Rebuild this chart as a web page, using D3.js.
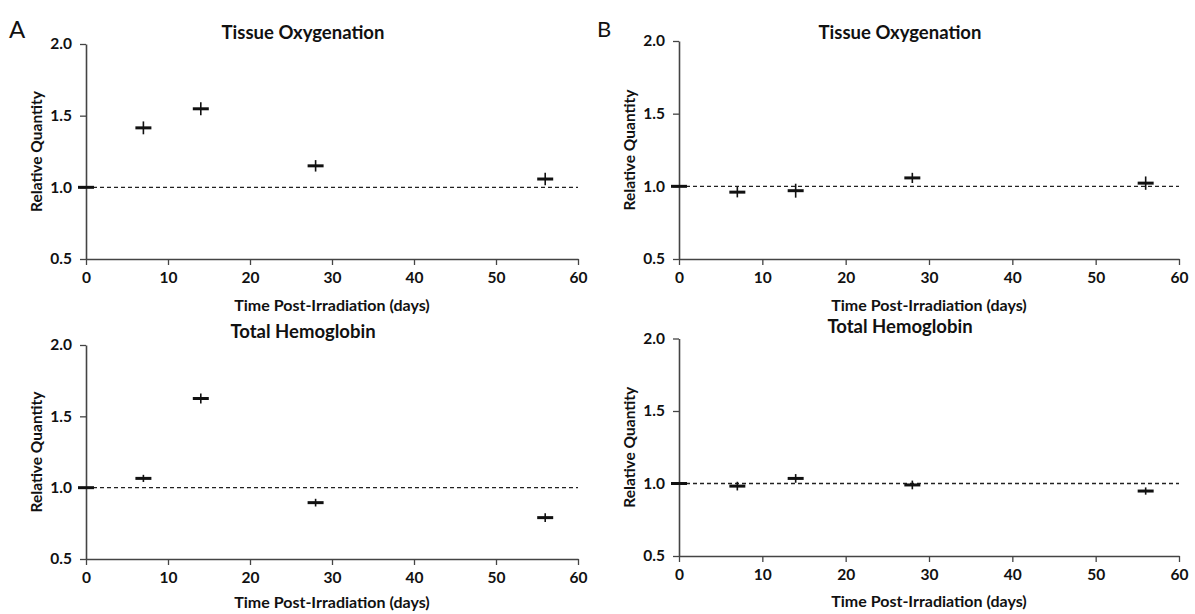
<!DOCTYPE html>
<html><head><meta charset="utf-8">
<script src="https://cdn.jsdelivr.net/npm/d3@7"></script>
<style>
body{margin:0;background:#fff;}
text{font-family:Lato,"Open Sans",sans-serif;fill:#111;}
</style></head>
<body><svg id="c" width="1195" height="614"></svg>
<script>
// ---- data ----
const days = [0, 7, 14, 28, 56];
const xTicks = [0, 10, 20, 30, 40, 50, 60];
const yTicks = [0.5, 1.0, 1.5, 2.0];
const oxyA = [1.00, 1.415, 1.548, 1.150, 1.058];
const oxyAErr = [0, 0.045, 0.045, 0.040, 0.043];
const hbA = [1.00, 1.065, 1.625, 0.895, 0.790];
const hbAErr = [0, 0.025, 0.035, 0.027, 0.030];
const oxyB = [1.00, 0.960, 0.970, 1.058, 1.022];
const oxyBErr = [0, 0.036, 0.048, 0.035, 0.046];
const hbB = [1.00, 0.982, 1.035, 0.990, 0.948];
const hbBErr = [0, 0.030, 0.030, 0.030, 0.025];
const titles = ["Tissue Oxygenation", "Total Hemoglobin"];
const xLabel = "Time Post-Irradiation (days)";
const yLabel = "Relative Quantity";

const svg = d3.select("#c");

const panels = [
  {vals: oxyA, err: oxyAErr, title: titles[0], x0: 86, x1: 578, yT: 44, yB: 259, titleY: 39, xlabY: 311},
  {vals: hbA, err: hbAErr, title: titles[1], x0: 86, x1: 578, yT: 345, yB: 559, titleY: 338, xlabY: 608},
  {vals: oxyB, err: oxyBErr, title: titles[0], x0: 679, x1: 1179, yT: 41, yB: 259, titleY: 39, xlabY: 311},
  {vals: hbB, err: hbBErr, title: titles[1], x0: 679, x1: 1179, yT: 338.5, yB: 556, titleY: 333, xlabY: 607}
];

panels.forEach(p => {
  const x = d3.scaleLinear().domain([0, 60]).range([p.x0, p.x1]);
  const y = d3.scaleLinear().domain([0.5, 2.0]).range([p.yB, p.yT]);
  const g = svg.append("g");

  // reference dashed line at 1.0
  g.append("line").attr("x1", x(0)).attr("x2", x(60)).attr("y1", y(1)).attr("y2", y(1))
    .attr("stroke", "#222").attr("stroke-width", 1.3).attr("stroke-dasharray", "4,3");

  const xa = g.append("g").attr("transform", `translate(0,${p.yB})`)
    .call(d3.axisBottom(x).tickValues(xTicks).tickSize(6).tickSizeOuter(0).tickPadding(7));
  const ya = g.append("g").attr("transform", `translate(${p.x0},0)`)
    .call(d3.axisLeft(y).tickValues(yTicks).tickSize(6).tickSizeOuter(0).tickPadding(8).tickFormat(d3.format(".1f")));
  [xa, ya].forEach(a => {
    a.select(".domain").attr("stroke", "#444").attr("stroke-width", 1.6);
    a.selectAll(".tick line").attr("stroke", "#444").attr("stroke-width", 1.3);
    a.selectAll(".tick text").style("font-size", "15.5px").style("font-weight", "700").attr("fill", "#111");
  });

  // markers: vertical error bar + horizontal bar
  const m = g.selectAll("g.mk").data(days.map((d, i) => ({d, v: p.vals[i], e: p.err[i]}))).enter().append("g");
  m.append("line").attr("x1", d => x(d.d)).attr("x2", d => x(d.d))
    .attr("y1", d => y(d.v + d.e)).attr("y2", d => y(d.v - d.e))
    .attr("stroke", "#111").attr("stroke-width", 1.6);
  m.append("line").attr("x1", d => x(d.d) - 8).attr("x2", d => x(d.d) + 8)
    .attr("y1", d => y(d.v)).attr("y2", d => y(d.v))
    .attr("stroke", "#111").attr("stroke-width", 3);

  const cx = (p.x0 + p.x1) / 2;
  g.append("text").attr("x", cx - 29).attr("y", p.titleY).attr("text-anchor", "middle")
    .style("font-size", "18.5px").style("font-weight", "700").text(p.title);
  g.append("text").attr("x", cx).attr("y", p.xlabY).attr("text-anchor", "middle")
    .style("font-size", "16px").style("font-weight", "700").text(xLabel);
  g.append("text").attr("transform", `translate(${p.x0 - 44},${(p.yT + p.yB) / 2}) rotate(-90)`)
    .attr("text-anchor", "middle").style("font-size", "15.5px").style("font-weight", "700").text(yLabel);
});

svg.append("text").attr("x", 9).attr("y", 38).style("font-size", "24px").text("A");
svg.append("text").attr("x", 597).attr("y", 37).style("font-size", "22px").text("B");
</script></body></html>
